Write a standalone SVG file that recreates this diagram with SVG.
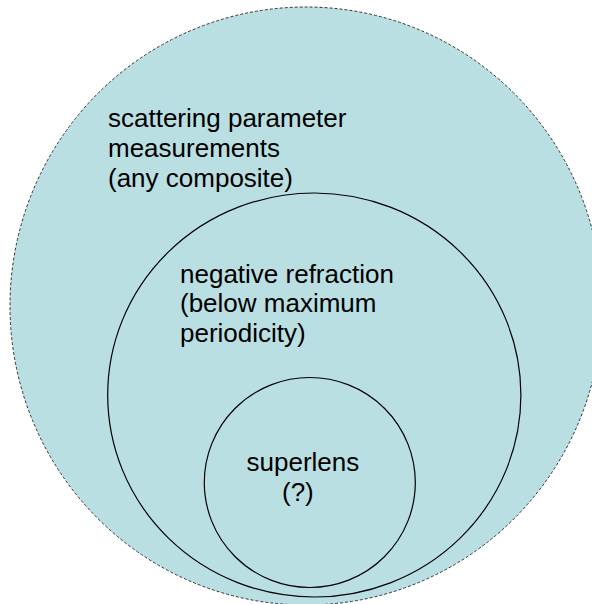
<svg xmlns="http://www.w3.org/2000/svg" width="592" height="604" viewBox="0 0 592 604">
  <style>
    .lbl { font-family: "Liberation Sans", Arial, sans-serif; font-size: 26px; fill: #000; }
    .ring { fill: #b9dfe3; stroke: #000; stroke-width: 1.2; }
    .outer { fill: #b9dfe3; stroke: #333; stroke-width: 1; stroke-dasharray: 3 2; }
  </style>
  <rect width="592" height="604" fill="#fff"/>
  <g id="scattering">
    <ellipse class="outer" cx="306" cy="306" rx="296" ry="299"/>
    <text class="lbl" x="108" y="127">scattering parameter</text>
    <text class="lbl" x="108" y="157">measurements</text>
    <text class="lbl" x="108" y="187">(any composite)</text>
  </g>
  <g id="negative-refraction">
    <ellipse class="ring" cx="314.3" cy="395" rx="206.6" ry="202"/>
    <text class="lbl" x="180" y="282.5">negative refraction</text>
    <text class="lbl" x="180" y="312">(below maximum</text>
    <text class="lbl" x="180" y="341.5">periodicity)</text>
  </g>
  <g id="superlens">
    <ellipse class="ring" cx="309.8" cy="482.5" rx="105.5" ry="105"/>
    <text class="lbl" x="246.5" y="471">superlens</text>
    <text class="lbl" x="282" y="501">(?)</text>
  </g>
  <g id="connectors"/>
</svg>
